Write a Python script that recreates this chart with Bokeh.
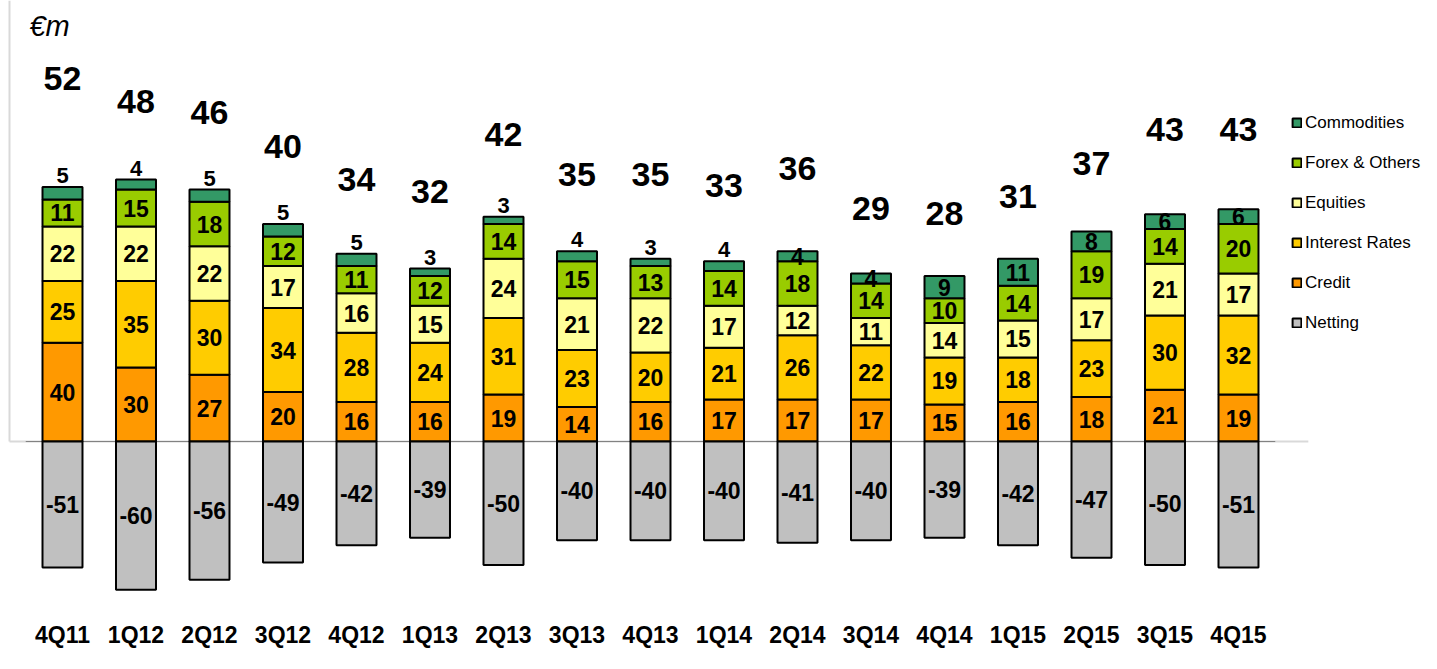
from bokeh.plotting import figure
from bokeh.models import ColumnDataSource, Range1d, Legend, LegendItem, Label
from bokeh.core.properties import value
from bokeh.embed import file_html
from bokeh.resources import INLINE

categories = ["4Q11", "1Q12", "2Q12", "3Q12", "4Q12", "1Q13", "2Q13", "3Q13", "4Q13",
              "1Q14", "2Q14", "3Q14", "4Q14", "1Q15", "2Q15", "3Q15", "4Q15"]
credit = [40, 30, 27, 20, 16, 16, 19, 14, 16, 17, 17, 17, 15, 16, 18, 21, 19]
interest_rates = [25, 35, 30, 34, 28, 24, 31, 23, 20, 21, 26, 22, 19, 18, 23, 30, 32]
equities = [22, 22, 22, 17, 16, 15, 24, 21, 22, 17, 12, 11, 14, 15, 17, 21, 17]
forex_others = [11, 15, 18, 12, 11, 12, 14, 15, 13, 14, 18, 14, 10, 14, 19, 14, 20]
commodities = [5, 4, 5, 5, 5, 3, 3, 4, 3, 4, 4, 4, 9, 11, 8, 6, 6]
netting = [-51, -60, -56, -49, -42, -39, -50, -40, -40, -40, -41, -40, -39, -42, -47, -50, -51]
totals = [52, 48, 46, 40, 34, 32, 42, 35, 35, 33, 36, 29, 28, 31, 37, 43, 43]

series_keys = ["credit", "ir", "eq", "fx", "com"]
colors = ["#FF9900", "#FFCC00", "#FFFF99", "#99CC00", "#339966"]
net_color = "#C0C0C0"

FONT = "Liberation Sans"
n = len(categories)
xs = list(range(n))

src = ColumnDataSource(dict(x=xs, credit=credit, ir=interest_rates, eq=equities,
                            fx=forex_others, com=commodities, netting=netting))

# ranges (pixel-calibrated: 73.5 px per category, 2.47 px per EUR m)
W, H = 1421, 653
px_per_x = 73.5
x_start = -0.8435
x_end = x_start + W / px_per_x
y_end = 178.5
y_start = -85.8

p = figure(width=W, height=H, x_range=Range1d(x_start, x_end), y_range=Range1d(y_start, y_end),
           output_backend="svg", toolbar_location=None,
           x_axis_location=None, y_axis_location=None,
           min_border_left=0, min_border_right=0, min_border_top=0, min_border_bottom=0,
           background_fill_color="white", border_fill_color="white")
p.outline_line_color = None
p.xgrid.visible = False
p.ygrid.visible = False
p.extra_y_ranges = {"tot": Range1d(-50.1, 65.88)}

# frame lines
frame_left = -0.721
frame_right = 16.95
p.segment(x0=[frame_left], y0=[0], x1=[frame_left], y1=[y_end], line_color="#D9D9D9", line_width=2)
p.segment(x0=[frame_left], y0=[0], x1=[frame_right], y1=[0], line_color="#D9D9D9", line_width=2)
p.segment(x0=[-0.5], y0=[0], x1=[n - 0.5], y1=[0], line_color="#808080", line_width=1)

bw = 0.544
renderers = p.vbar_stack(series_keys, x="x", width=bw, color=colors, line_color="black",
                         line_width=2, source=src)
net_r = p.vbar(x="x", top=0, bottom="netting", width=bw, fill_color=net_color,
               line_color="black", line_width=2, source=src)

# segment labels
lx, ly, lt = [], [], []
ox, oy, ot = [], [], []
for i in range(n):
    vals = [credit[i], interest_rates[i], equities[i], forex_others[i], commodities[i]]
    base = 0
    for k, v in enumerate(vals):
        if k == 4 and i < 10:
            ox.append(i); oy.append(base + v); ot.append(str(v))
        else:
            lx.append(i); ly.append(base + v / 2); lt.append(str(v))
        base += v
    lx.append(i); ly.append(netting[i] / 2); lt.append(str(netting[i]))

p.text(x=lx, y=ly, text=lt, text_align="center", text_baseline="middle",
       text_font=value(FONT), text_font_style="bold", text_font_size="23px", text_color="black")
p.text(x=ox, y=oy, text=ot, text_align="center", text_baseline="bottom", y_offset=-4,
       text_font=value(FONT), text_font_style="bold", text_font_size="22px", text_color="black")
p.text(x=xs, y=totals, text=[str(t) for t in totals], y_range_name="tot",
       text_align="center", text_baseline="middle",
       text_font=value(FONT), text_font_style="bold", text_font_size="34px", text_color="black")

# category tick labels
cat_y = -78.5
p.text(x=xs, y=[cat_y] * n, text=categories, text_align="center", text_baseline="middle",
       text_font=value(FONT), text_font_style="bold", text_font_size="23px", text_color="black")

p.add_layout(Label(x=-0.449, y=168, text="€m", text_font=FONT, text_font_style="italic",
                   text_font_size="29px", text_baseline="middle", text_color="black"))

items = [LegendItem(label="Commodities", renderers=[renderers[4]]),
         LegendItem(label="Forex & Others", renderers=[renderers[3]]),
         LegendItem(label="Equities", renderers=[renderers[2]]),
         LegendItem(label="Interest Rates", renderers=[renderers[1]]),
         LegendItem(label="Credit", renderers=[renderers[0]]),
         LegendItem(label="Netting", renderers=[net_r])]
legend = Legend(items=items, location=(1291, 320), padding=0, margin=0, spacing=19,
                glyph_width=11, glyph_height=11, label_height=21, label_standoff=3,
                label_text_font=FONT, label_text_font_size="17px", label_text_color="black",
                border_line_color=None, background_fill_alpha=0)
p.add_layout(legend)

open("out.html", "w").write(file_html(p, INLINE))
